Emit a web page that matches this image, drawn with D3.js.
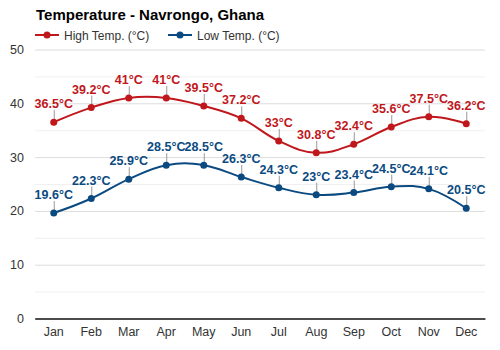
<!DOCTYPE html>
<html lang="en">
<head>
<meta charset="UTF-8">
<title>Temperature - Navrongo, Ghana</title>
<script src="https://d3js.org/d3.v7.min.js"></script>
<style>
  body { margin: 0; background: #fff; font-family: Arial, "Liberation Sans", sans-serif; }
</style>
</head>
<body>
<svg width="500" height="350"></svg>
<script>
const months = ["Jan", "Feb", "Mar", "Apr", "May", "Jun", "Jul", "Aug", "Sep", "Oct", "Nov", "Dec"];
const highTemp = [36.5, 39.2, 41, 41, 39.5, 37.2, 33, 30.8, 32.4, 35.6, 37.5, 36.2];
const lowTemp = [19.6, 22.3, 25.9, 28.5, 28.5, 26.3, 24.3, 23, 23.4, 24.5, 24.1, 20.5];
const yTicks = [0, 10, 20, 30, 40, 50];

const series = [
  { name: "High Temp. (°C)", values: highTemp, color: "#c0171c" },
  { name: "Low Temp. (°C)", values: lowTemp, color: "#0b4a80" }
];

const svg = d3.select("svg");
const plotLeft = 35, plotRight = 485, plotTop = 49.5, plotBottom = 318.5;

const x = d3.scaleBand().domain(months).range([plotLeft, plotRight]);
const cx = m => x(m) + x.bandwidth() / 2;
const y = d3.scaleLinear().domain([0, 50]).range([plotBottom, plotTop]);

// title
svg.append("text")
  .attr("x", 36).attr("y", 20)
  .attr("font-size", 15).attr("font-weight", "bold").attr("fill", "#000")
  .text("Temperature - Navrongo, Ghana");

// legend
const legendX = [35, 168];
series.forEach((s, i) => {
  const g = svg.append("g").attr("transform", `translate(${legendX[i]},35)`);
  g.append("line").attr("x1", 0).attr("x2", 24).attr("stroke", s.color).attr("stroke-width", 2);
  g.append("circle").attr("cx", 12).attr("r", 3.5).attr("fill", s.color);
  g.append("text").attr("x", 29).attr("y", 4.5).attr("font-size", 12).attr("fill", "#333").text(s.name);
});

// minor gridlines
svg.append("g").selectAll("line")
  .data(d3.range(5, 50, 10))
  .join("line")
  .attr("x1", plotLeft).attr("x2", plotRight)
  .attr("y1", d => y(d) + 0.5).attr("y2", d => y(d) + 0.5)
  .attr("stroke", "#f0f0f0");

// y axis with gridlines
const yAxis = svg.append("g")
  .attr("transform", `translate(${plotLeft},0)`)
  .call(d3.axisLeft(y).tickValues(yTicks).tickSize(-(plotRight - plotLeft)).tickPadding(11));
yAxis.select(".domain").remove();
yAxis.selectAll(".tick line").attr("stroke", "#dcdcdc");
yAxis.selectAll(".tick text").attr("font-size", 12.5).attr("fill", "#333").attr("font-family", "Arial, sans-serif");
yAxis.selectAll(".tick").filter(d => d === 0).select("line").attr("stroke", "#333");

// x axis
const xAxis = svg.append("g")
  .attr("transform", `translate(0,${plotBottom})`)
  .call(d3.axisBottom(x).tickSize(0).tickPadding(9));
xAxis.select(".domain").attr("stroke", "#333").attr("stroke-width", 1.5);
xAxis.selectAll(".tick text").attr("font-size", 12.5).attr("fill", "#333").attr("font-family", "Arial, sans-serif");

const line = d3.line()
  .x((d, i) => cx(months[i]))
  .y(d => y(d))
  .curve(d3.curveCardinal.tension(-0.2));

series.forEach(s => {
  const g = svg.append("g");
  g.append("path")
    .attr("d", line(s.values))
    .attr("fill", "none").attr("stroke", s.color).attr("stroke-width", 2);

  // leader lines
  g.selectAll("line.lead")
    .data(s.values)
    .join("line")
    .attr("x1", (d, i) => cx(months[i]) + 0.5).attr("x2", (d, i) => cx(months[i]) + 0.5)
    .attr("y1", d => y(d)).attr("y2", d => y(d) - 12)
    .attr("stroke", "#999").attr("stroke-width", 1);

  g.selectAll("circle")
    .data(s.values)
    .join("circle")
    .attr("cx", (d, i) => cx(months[i]))
    .attr("cy", d => y(d))
    .attr("r", 3.5)
    .attr("fill", s.color);

  g.selectAll("text")
    .data(s.values)
    .join("text")
    .attr("x", (d, i) => cx(months[i]))
    .attr("y", d => y(d) - 14)
    .attr("text-anchor", "middle")
    .attr("font-size", 12.5).attr("font-weight", "bold")
    .attr("fill", s.color)
    .text(d => d + "°C");
});
</script>
</body>
</html>
